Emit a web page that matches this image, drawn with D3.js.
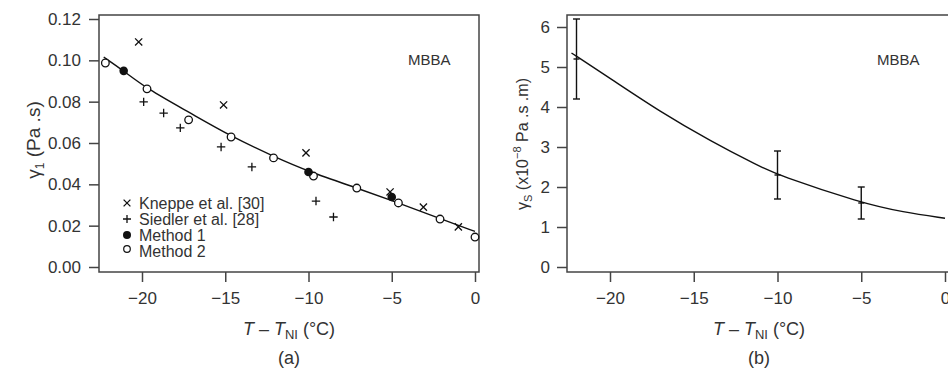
<!DOCTYPE html>
<html>
<head>
<meta charset="utf-8">
<script src="https://cdn.jsdelivr.net/npm/d3@7"></script>
<style>
  body { margin: 0; background: #fff; }
  svg { display: block; }
  text { font-family: "Liberation Sans", Arial, sans-serif; fill: #333; }
</style>
</head>
<body>
<div id="chart-area"></div>
<script>
// Datos del panel (a): gamma1 en Pa.s frente a T - TNI
var kneppeT = [-20.2, -15.1, -10.15, -5.1, -3.1, -1.0];
var kneppeV = [0.1089, 0.0784, 0.0552, 0.0363, 0.0290, 0.0194];
var siedlerT = [-19.9, -18.7, -17.7, -15.25, -13.4, -9.55, -8.5];
var siedlerV = [0.0799, 0.0745, 0.0673, 0.0581, 0.0484, 0.0319, 0.0242];
var method1T = [-21.1, -10.0, -5.0];
var method1V = [0.0949, 0.0460, 0.0339];
var method2T = [-22.2, -19.7, -17.2, -14.65, -12.1, -9.7, -7.1, -4.6, -2.1, 0];
var method2V = [0.0987, 0.0862, 0.0712, 0.0629, 0.0528, 0.0440, 0.0382, 0.0310, 0.0232, 0.0145];
// curva de ajuste
var fitAT = [-22.3, -21.1, -19.7, -17.2, -14.65, -12.1, -10.0, -7.1, -4.6, -2.1, 0];
var fitAV = [0.1016, 0.0949, 0.0862, 0.0750, 0.0632, 0.0535, 0.0462, 0.0382, 0.0310, 0.0234, 0.0172];
var ticksAX = [-20, -15, -10, -5, 0];
var ticksAY = [0, 0.02, 0.04, 0.06, 0.08, 0.10, 0.12];

// Datos del panel (b): gammaS (x10^-8 Pa.s.m)
var errT = [-22, -10, -5];
var errMid = [5.2, 2.3, 1.6];
var errLow = [4.2, 1.7, 1.2];
var errHigh = [6.2, 2.9, 2.0];
var fitBT = [-22.3, -20, -17, -14, -11.1, -10, -5, -2.5, 0];
var fitBV = [5.35, 4.72, 3.88, 3.15, 2.52, 2.3, 1.6, 1.37, 1.22];
var ticksBX = [-20, -15, -10, -5, 0];
var ticksBY = [0, 1, 2, 3, 4, 5, 6];

var W = 948, H = 373;
var svg = d3.select("#chart-area").append("svg")
    .attr("width", W)
    .attr("height", H);

var frameColor = "#444";

function zip(a, b) { return a.map(function(d, i) { return [d, b[i]]; }); }

// ---------- Panel (a) ----------
var boxA = { left: 99, right: 479, top: 15, bottom: 272 };
var xA = d3.scaleLinear().domain([-20, 0]).range([142, 475]);
var yA = d3.scaleLinear().domain([0, 0.12]).range([267, 19]);

var gA = svg.append("g");

gA.append("rect")
    .attr("x", boxA.left).attr("y", boxA.top)
    .attr("width", boxA.right - boxA.left).attr("height", boxA.bottom - boxA.top)
    .attr("fill", "none").attr("stroke", frameColor).attr("stroke-width", 1.5);

gA.append("g")
    .attr("transform", "translate(" + boxA.left + ",0)")
    .call(d3.axisLeft(yA).tickValues(ticksAY).tickFormat(d3.format(".2f"))
        .tickSize(10).tickSizeOuter(0).tickPadding(8));
gA.append("g")
    .attr("transform", "translate(0," + boxA.bottom + ")")
    .call(d3.axisBottom(xA).tickValues(ticksAX).tickFormat(d3.format("d"))
        .tickSize(10).tickSizeOuter(0).tickPadding(10));

// ---------- Panel (b) ----------
var boxB = { left: 567, right: 952, top: 15, bottom: 272 };
var xB = d3.scaleLinear().domain([-20, 0]).range([610, 945]);
var yB = d3.scaleLinear().domain([0, 6]).range([267, 27]);

var gB = svg.append("g");

gB.append("rect")
    .attr("x", boxB.left).attr("y", boxB.top)
    .attr("width", boxB.right - boxB.left).attr("height", boxB.bottom - boxB.top)
    .attr("fill", "none").attr("stroke", frameColor).attr("stroke-width", 1.5);

gB.append("g")
    .attr("transform", "translate(" + boxB.left + ",0)")
    .call(d3.axisLeft(yB).tickValues(ticksBY).tickFormat(d3.format("d"))
        .tickSize(10).tickSizeOuter(0).tickPadding(7));
gB.append("g")
    .attr("transform", "translate(0," + boxB.bottom + ")")
    .call(d3.axisBottom(xB).tickValues(ticksBX).tickFormat(d3.format("d"))
        .tickSize(10).tickSizeOuter(0).tickPadding(10));

// estilo de ejes
svg.selectAll(".domain").remove();
svg.selectAll(".tick line").attr("stroke", frameColor).attr("stroke-width", 1.5);
svg.selectAll(".tick text")
    .attr("fill", "#333")
    .style("font-family", "'Liberation Sans', Arial, sans-serif")
    .style("font-size", "17px");

// ---------- curvas ----------
var lineA = d3.line()
    .x(function(d) { return xA(d[0]); })
    .y(function(d) { return yA(d[1]); })
    .curve(d3.curveBasis);
gA.append("path")
    .datum(zip(fitAT, fitAV))
    .attr("d", lineA)
    .attr("fill", "none").attr("stroke", "#111").attr("stroke-width", 1.4);

var lineB = d3.line()
    .x(function(d) { return xB(d[0]); })
    .y(function(d) { return yB(d[1]); })
    .curve(d3.curveBasis);
gB.append("path")
    .datum(zip(fitBT, fitBV))
    .attr("d", lineB)
    .attr("fill", "none").attr("stroke", "#111").attr("stroke-width", 1.4);

// ---------- marcadores panel (a) ----------
function drawCross(g, x, y, r) {
    g.append("path")
        .attr("d", "M" + (x - r) + "," + (y - r) + "L" + (x + r) + "," + (y + r) +
                   "M" + (x - r) + "," + (y + r) + "L" + (x + r) + "," + (y - r))
        .attr("stroke", "#111").attr("stroke-width", 1.3).attr("fill", "none");
}
function drawPlus(g, x, y, r) {
    g.append("path")
        .attr("d", "M" + (x - r) + "," + y + "L" + (x + r) + "," + y +
                   "M" + x + "," + (y - r) + "L" + x + "," + (y + r))
        .attr("stroke", "#111").attr("stroke-width", 1.3).attr("fill", "none");
}

kneppeT.forEach(function(t, i) { drawCross(gA, xA(t), yA(kneppeV[i]), 3.6); });
siedlerT.forEach(function(t, i) { drawPlus(gA, xA(t), yA(siedlerV[i]), 4.2); });

gA.selectAll("circle.m2")
    .data(zip(method2T, method2V))
    .enter().append("circle")
    .attr("class", "m2")
    .attr("cx", function(d) { return xA(d[0]); })
    .attr("cy", function(d) { return yA(d[1]); })
    .attr("r", 3.8)
    .attr("fill", "#fff").attr("stroke", "#111").attr("stroke-width", 1.3);

gA.selectAll("circle.m1")
    .data(zip(method1T, method1V))
    .enter().append("circle")
    .attr("class", "m1")
    .attr("cx", function(d) { return xA(d[0]); })
    .attr("cy", function(d) { return yA(d[1]); })
    .attr("r", 4.3)
    .attr("fill", "#111");

// ---------- barras de error panel (b) ----------
errT.forEach(function(t, i) {
    var x = xB(t);
    var g = gB.append("g").attr("stroke", "#111").attr("stroke-width", 1.4);
    g.append("line").attr("x1", x).attr("x2", x)
        .attr("y1", yB(errHigh[i])).attr("y2", yB(errLow[i]));
    g.append("line").attr("x1", x - 3.5).attr("x2", x + 3.5)
        .attr("y1", yB(errHigh[i])).attr("y2", yB(errHigh[i]));
    g.append("line").attr("x1", x - 3.5).attr("x2", x + 3.5)
        .attr("y1", yB(errLow[i])).attr("y2", yB(errLow[i]));
    g.append("line").attr("x1", x - 3).attr("x2", x + 3)
        .attr("y1", yB(errMid[i])).attr("y2", yB(errMid[i]));
});

// ---------- leyenda ----------
var legend = gA.append("g");
var legY = [203, 219, 235, 251];
var legNames = ["Kneppe et al. [30]", "Siedler et al. [28]", "Method 1", "Method 2"];
drawCross(legend, 127, legY[0], 3.4);
drawPlus(legend, 127, legY[1], 4);
legend.append("circle").attr("cx", 127).attr("cy", legY[2]).attr("r", 4).attr("fill", "#111");
legend.append("circle").attr("cx", 127).attr("cy", legY[3] - 2).attr("r", 3.3)
    .attr("fill", "#fff").attr("stroke", "#111").attr("stroke-width", 1.2);
legNames.forEach(function(n, i) {
    legend.append("text")
        .attr("x", 139).attr("y", legY[i] + 6)
        .style("font-size", "16px")
        .text(n);
});

// ---------- textos ----------
gA.append("text").attr("x", 408).attr("y", 65).style("font-size", "15px").text("MBBA");
gB.append("text").attr("x", 877).attr("y", 65).style("font-size", "15px").text("MBBA");

function xLabel(g, cx) {
    var t = g.append("text")
        .attr("x", cx).attr("y", 335)
        .attr("text-anchor", "middle")
        .style("font-size", "18px");
    t.append("tspan").style("font-style", "italic").text("T");
    t.append("tspan").text(" \u2013 ");
    t.append("tspan").style("font-style", "italic").text("T");
    t.append("tspan").attr("dy", 4).style("font-size", "13px").text("NI");
    t.append("tspan").attr("dy", -4).text(" (\u00b0C)");
}
xLabel(gA, 289);
xLabel(gB, 759);

gA.append("text").attr("x", 289).attr("y", 364).attr("text-anchor", "middle")
    .style("font-size", "18px").text("(a)");
gB.append("text").attr("x", 759).attr("y", 364).attr("text-anchor", "middle")
    .style("font-size", "18px").text("(b)");

// etiqueta eje Y (a)
var yla = gA.append("text")
    .attr("transform", "translate(40,140) rotate(-90)")
    .attr("text-anchor", "middle")
    .style("font-size", "19px");
yla.append("tspan").text("\u03b3");
yla.append("tspan").attr("dy", 4).style("font-size", "12px").text("1");
yla.append("tspan").attr("dy", -4).text(" (Pa .s)");

// etiqueta eje Y (b)
var ylb = gB.append("text")
    .attr("transform", "translate(528,144) rotate(-90)")
    .attr("text-anchor", "middle")
    .style("font-size", "16px");
ylb.append("tspan").text("\u03b3");
ylb.append("tspan").attr("dy", 4).style("font-size", "11px").text("S");
ylb.append("tspan").attr("dy", -4).text(" (x10");
ylb.append("tspan").attr("dy", -7).style("font-size", "11px").text("\u22128");
ylb.append("tspan").attr("dy", 7).text(" Pa .s .m)");
</script>
</body>
</html>
